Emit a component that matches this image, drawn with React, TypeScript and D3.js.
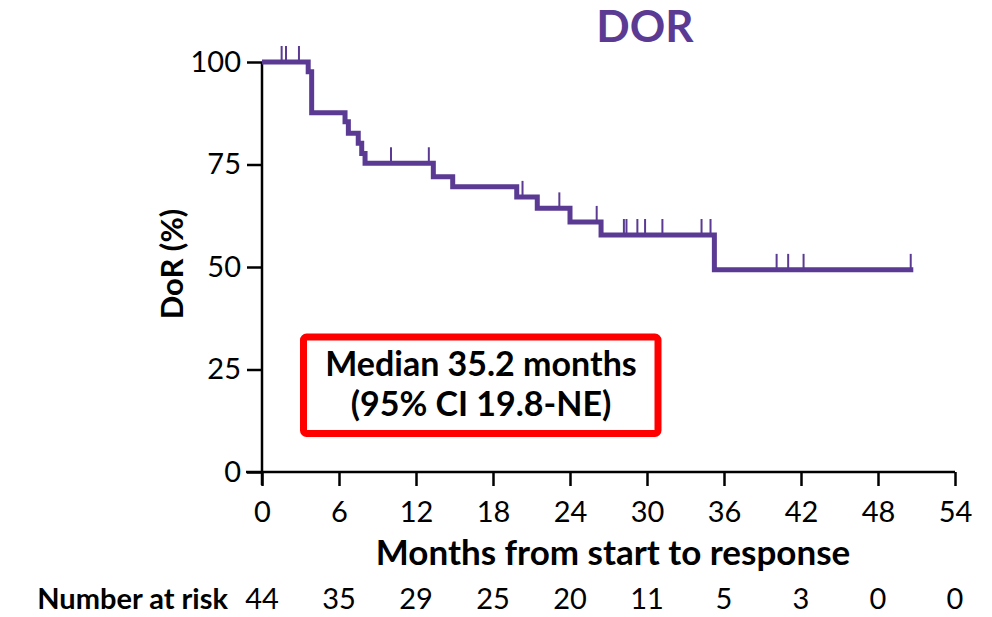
import React, { useRef, useEffect } from 'react';
import * as d3 from 'd3';

// KM curve (months, survival %)
const eventTimes = [3.6, 3.87, 6.47, 6.73, 7.5, 7.77, 8.03, 13.35, 14.86, 19.85, 21.45, 24.0, 26.42, 35.25];
const survival = [97.6, 87.6, 85.4, 82.6, 80.2, 77.7, 75.3, 72.0, 69.6, 67.1, 64.3, 61.0, 57.8, 49.3];
const lastFollowUp = 50.75;
const censorTimes = [1.53, 1.87, 2.88, 10.05, 13.0, 20.3, 23.17, 26.08, 28.2, 28.4, 29.25, 29.85, 31.2, 34.25, 34.95, 40.1, 41.0, 42.2, 50.55];

const xTicks = [0, 6, 12, 18, 24, 30, 36, 42, 48, 54];
const yTicks = [0, 25, 50, 75, 100];
const atRisk = [44, 35, 29, 25, 20, 11, 5, 3, 0, 0];

const PURPLE = '#5a3a93';
const FONT = 'Lato, "DejaVu Sans", sans-serif';

const App = () => {
  const chartRef = useRef(null);

  useEffect(() => {
    const svg = d3.select(chartRef.current);
    svg.selectAll('*').remove();

    const xScale = d3.scaleLinear().domain([0, 54]).range([262, 955]);
    const yScale = d3.scaleLinear().domain([0, 100]).range([472, 62]);

    // Axes
    const xAxis = d3.axisBottom(xScale).tickValues(xTicks).tickSize(14).tickSizeOuter(0).tickPadding(8);
    const yAxis = d3.axisLeft(yScale).tickValues(yTicks).tickSize(15).tickSizeOuter(0).tickPadding(6);

    const gx = svg.append('g').attr('transform', `translate(0,${yScale(0)})`).call(xAxis);
    const gy = svg.append('g').attr('transform', `translate(${xScale(0)},0)`).call(yAxis);
    [gx, gy].forEach((g) => {
      g.select('.domain').remove();
      g.selectAll('line').attr('stroke', '#000').attr('stroke-width', 2.5);
      g.selectAll('text').attr('fill', '#000').attr('font-family', FONT).attr('font-size', 29);
    });
    gx.selectAll('text').attr('dy', '0.95em');

    svg.append('line')
      .attr('x1', 246).attr('x2', xScale(54))
      .attr('y1', yScale(0)).attr('y2', yScale(0))
      .attr('stroke', '#000').attr('stroke-width', 2.5);
    svg.append('line')
      .attr('x1', xScale(0)).attr('x2', xScale(0))
      .attr('y1', 485).attr('y2', yScale(100))
      .attr('stroke', '#000').attr('stroke-width', 2.5);

    // Curve
    const pts: [number, number][] = [[0, 100]];
    eventTimes.forEach((t, i) => pts.push([t, survival[i]]));
    pts.push([lastFollowUp, survival[survival.length - 1]]);

    const line = d3.line<[number, number]>()
      .x((d) => xScale(d[0]))
      .y((d) => yScale(d[1]))
      .curve(d3.curveStepAfter);

    svg.append('path')
      .datum(pts)
      .attr('d', line)
      .attr('fill', 'none')
      .attr('stroke', PURPLE)
      .attr('stroke-width', 5)
      .attr('stroke-linejoin', 'miter');

    const survAt = (t: number) => {
      let s = 100;
      eventTimes.forEach((e, i) => { if (e <= t) s = survival[i]; });
      return s;
    };

    svg.selectAll('.censor')
      .data(censorTimes)
      .enter()
      .append('line')
      .attr('class', 'censor')
      .attr('x1', (d) => xScale(d)).attr('x2', (d) => xScale(d))
      .attr('y1', (d) => yScale(survAt(d)))
      .attr('y2', (d) => yScale(survAt(d)) - 16)
      .attr('stroke', PURPLE)
      .attr('stroke-width', 2);

    // Title and labels
    svg.append('text')
      .attr('x', 645).attr('y', 42)
      .attr('text-anchor', 'middle')
      .attr('font-family', FONT).attr('font-weight', 'bold').attr('font-size', 44)
      .attr('fill', PURPLE)
      .text('DOR');

    svg.append('text')
      .attr('transform', `translate(183,264) rotate(-90)`)
      .attr('text-anchor', 'middle')
      .attr('font-family', FONT).attr('font-weight', 'bold').attr('font-size', 31)
      .text('DoR (%)');

    svg.append('text')
      .attr('x', 613).attr('y', 565)
      .attr('text-anchor', 'middle')
      .attr('font-family', FONT).attr('font-weight', 'bold').attr('font-size', 35)
      .text('Months from start to response');

    // Median box
    svg.append('rect')
      .attr('x', 303.5).attr('y', 337)
      .attr('width', 354.5).attr('height', 96.5)
      .attr('rx', 3)
      .attr('fill', '#fff')
      .attr('stroke', '#ff0000')
      .attr('stroke-width', 7);
    svg.append('text')
      .attr('x', 481).attr('y', 376)
      .attr('text-anchor', 'middle')
      .attr('font-family', FONT).attr('font-weight', 'bold').attr('font-size', 34)
      .text('Median 35.2 months');
    svg.append('text')
      .attr('x', 481).attr('y', 416)
      .attr('text-anchor', 'middle')
      .attr('font-family', FONT).attr('font-weight', 'bold').attr('font-size', 34)
      .text('(95% CI 19.8-NE)');

    // Number at risk
    svg.append('text')
      .attr('x', 228).attr('y', 609)
      .attr('text-anchor', 'end')
      .attr('font-family', FONT).attr('font-weight', 'bold').attr('font-size', 29)
      .text('Number at risk');
    svg.selectAll('.risk')
      .data(atRisk)
      .enter()
      .append('text')
      .attr('class', 'risk')
      .attr('x', (d, i) => xScale(xTicks[i]))
      .attr('y', 609)
      .attr('text-anchor', 'middle')
      .attr('font-family', FONT).attr('font-size', 29)
      .text((d) => d);
  }, []);

  return (
    <svg
      ref={chartRef}
      width={992}
      height={617}
      style={{ position: 'absolute', left: 0, top: 0, background: '#fff' }}
    />
  );
};

export default App;
